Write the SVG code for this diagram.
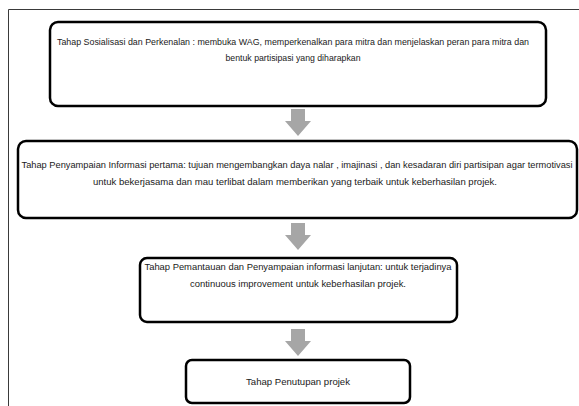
<svg xmlns="http://www.w3.org/2000/svg" width="579" height="406" viewBox="0 0 579 406">
  <style>
    .frame { fill: none; stroke: #3a3a3a; stroke-width: 1; }
    .box { fill: #ffffff; stroke: #000000; stroke-width: 2.5; }
    .lbl { font-family: "Liberation Sans", Arial, sans-serif; font-size: 9.6px; fill: #1a1a1a; text-anchor: middle; }
    .sm { font-size: 9px; }
    .arrow { fill: #a6a6a6; stroke: none; }
  </style>
  <defs>
    <!-- block arrow pointing down, origin at top centre -->
    <path id="down" d="M -7 0 H 7 V 12 H 13 L 0 27 L -13 12 H -7 Z"/>
  </defs>
  <rect width="579" height="406" fill="#ffffff"/>
  <!-- page frame (top and left edges) -->
  <path class="frame" d="M 8.5 406 V 9.5 H 579"/>

  <g id="connectors">
    <use href="#down" class="arrow" x="298" y="109"/>
    <use href="#down" class="arrow" x="298" y="223"/>
    <use href="#down" class="arrow" x="298" y="329"/>
  </g>

  <g id="step1">
    <rect class="box" x="50" y="22" width="496" height="84" rx="8"/>
    <text class="lbl sm" x="293" y="45" textLength="472" lengthAdjust="spacingAndGlyphs">Tahap Sosialisasi dan Perkenalan : membuka WAG, memperkenalkan para mitra dan menjelaskan peran para mitra dan</text>
    <text class="lbl" x="293" y="61" textLength="135" lengthAdjust="spacingAndGlyphs">bentuk partisipasi yang diharapkan</text>
  </g>

  <g id="step2">
    <rect class="box" x="18" y="141" width="559" height="77" rx="8"/>
    <text class="lbl sm" x="297" y="168" textLength="551" lengthAdjust="spacingAndGlyphs">Tahap Penyampaian Informasi pertama: tujuan mengembangkan daya nalar , imajinasi , dan kesadaran diri  partisipan agar termotivasi</text>
    <text class="lbl" x="295" y="185" textLength="404" lengthAdjust="spacingAndGlyphs">untuk bekerjasama dan mau terlibat dalam memberikan yang terbaik untuk keberhasilan projek.</text>
  </g>

  <g id="step3">
    <rect class="box" x="140" y="258" width="317" height="64" rx="7"/>
    <text class="lbl" x="298" y="270" textLength="307" lengthAdjust="spacingAndGlyphs">Tahap Pemantauan dan Penyampaian informasi  lanjutan: untuk terjadinya</text>
    <text class="lbl" x="298" y="287" textLength="216" lengthAdjust="spacingAndGlyphs">continuous improvement untuk keberhasilan projek.</text>
  </g>

  <g id="step4">
    <rect class="box" x="186" y="360" width="224" height="43" rx="6"/>
    <text class="lbl" x="298" y="385" textLength="104" lengthAdjust="spacingAndGlyphs">Tahap  Penutupan projek</text>
  </g>
</svg>
